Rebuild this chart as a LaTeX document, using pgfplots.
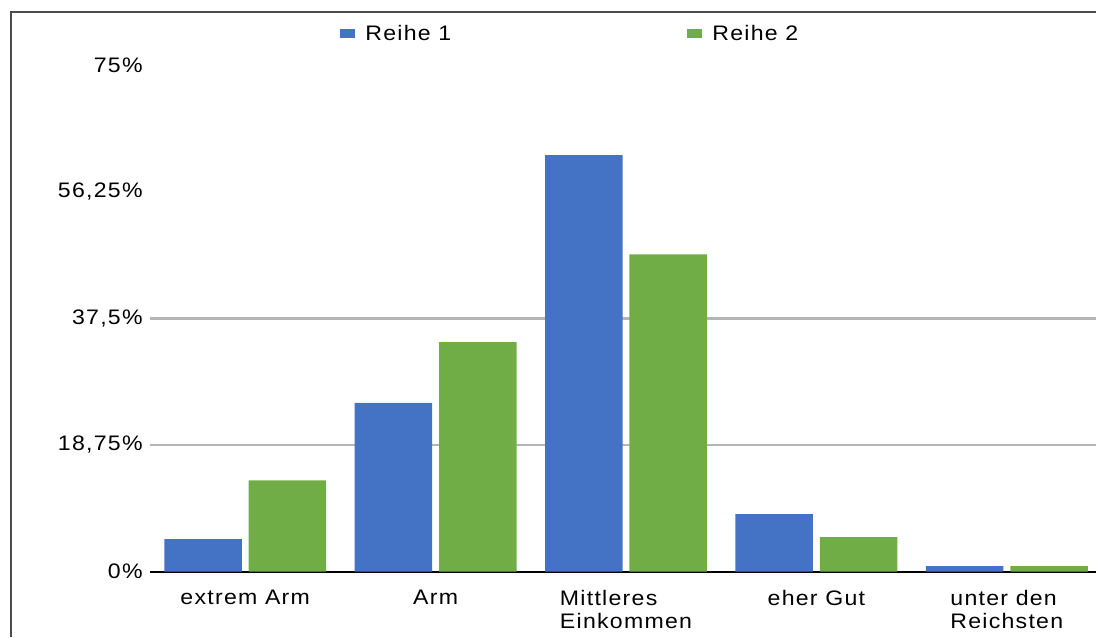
\documentclass[border=0pt]{standalone}
\usepackage{fontspec}
\setmainfont{Liberation Sans}[LetterSpace=6, FakeStretch=1.1]
\usepackage{pgfplots}
\pgfplotsset{compat=1.18}
\definecolor{rblue}{HTML}{4472C4}
\definecolor{rgreen}{HTML}{70AD47}
\begin{document}
\begin{tikzpicture}[x=1pt,y=1pt]
\begin{axis}[
  at={(75pt,32.75pt)}, anchor=south west,
  scale only axis, width=476pt, height=253pt,
  xmin=-0.5, xmax=4.5, ymin=0, ymax=75,
  font=\fontsize{10.5}{11.5}\selectfont,
  /pgf/number format/assume math mode=true,
  xtick={0,1,2,3,4},
  xticklabels={extrem Arm, Arm, {Mittleres\\Einkommen}, eher Gut, {unter den\\Reichsten}},
  xticklabel style={align=left, anchor=north, inner sep=0pt, yshift=-9.25pt, font=\fontsize{10.5}{11.25}\selectfont},
  ytick={0,18.75,37.5,56.25,75},
  yticklabels={0\%,{18,75\%},{37,5\%},{56,25\%},75\%},
  yticklabel style={anchor=east, inner sep=0pt, xshift=-3.5pt, font=\fontsize{10.5}{11.5}\selectfont},
  extra y ticks={18.75,37.5}, extra y tick labels={},
  extra y tick style={ymajorgrids=true, major grid style={color=black!29, line width=1.3pt}},
  major tick length=0pt,
  axis x line=bottom, axis y line=left,
  x axis line style={-, black, line width=1pt},
  y axis line style={draw=none},
  legend columns=2,
  legend style={at={(0.1996,1.0623)}, anchor=west, draw=none, fill=none, inner sep=0pt,
    font=\fontsize{10.5}{11.5}\selectfont,
    nodes={inner sep=0pt},
    /tikz/every odd column/.append style={column sep=5pt},
    /tikz/every even column/.append style={column sep=118pt}},
  legend image code/.code={\fill[#1] (0pt,-2.25pt) rectangle (7.5pt,2.25pt);},
]
\addplot[ybar, bar width=38.75pt, bar shift=-21.1pt, fill=rblue, draw=none]
  coordinates {(0,4.8) (1,25.0) (2,61.7) (3,8.5) (4,0.8)};
\addlegendentry{Reihe 1}
\addplot[ybar, bar width=38.75pt, bar shift=21.1pt, fill=rgreen, draw=none]
  coordinates {(0,13.5) (1,34.0) (2,47.0) (3,5.1) (4,0.8)};
\addlegendentry{Reihe 2}
\end{axis}
\draw[black!70, line width=1pt] (5.5pt,0pt) -- (5.5pt,312.5pt) -- (548pt,312.5pt);
\pgfresetboundingbox
\useasboundingbox (0pt,0pt) rectangle (548pt,318.5pt);
\end{tikzpicture}
\end{document}
